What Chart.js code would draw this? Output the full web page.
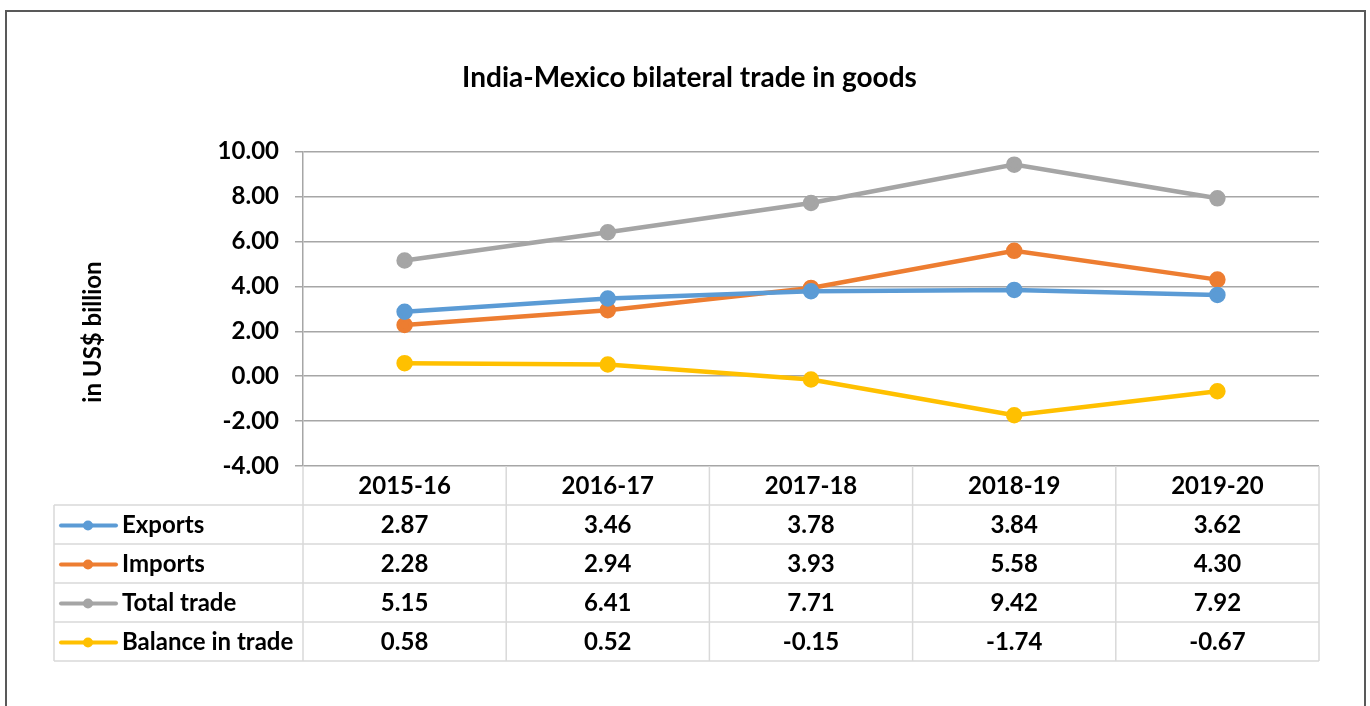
<!DOCTYPE html>
<html>
<head>
<meta charset="utf-8">
<script src="https://cdn.jsdelivr.net/npm/chart.js@4.4.1/dist/chart.umd.min.js"></script>
<style>
  html, body { margin: 0; padding: 0; background: #fff; }
  #wrap { width: 1370px; height: 706px; }
</style>
</head>
<body>
<div id="wrap"><canvas id="tradeChart" width="1370" height="706"></canvas></div>
<script>
// values in US$ billion
const years = ["2015-16", "2016-17", "2017-18", "2018-19", "2019-20"];
const exportsVals = [2.87, 3.46, 3.78, 3.84, 3.62];
const importsVals = [2.28, 2.94, 3.93, 5.58, 4.30];
const totalVals = [5.15, 6.41, 7.71, 9.42, 7.92];
const balanceVals = [0.58, 0.52, -0.15, -1.74, -0.67];

const seriesNames = ["Exports", "Imports", "Total trade", "Balance in trade"];
const seriesColors = ["#5B9BD5", "#ED7D31", "#A5A5A5", "#FFC000"];
const seriesData = [exportsVals, importsVals, totalVals, balanceVals];

const FONT = "Lato, 'Liberation Sans', sans-serif";

// draws the outer frame, the axis title and the data table under the plot
const tablePlugin = {
  id: "dataTable",
  beforeDraw(chart) {
    const c = chart.ctx;
    c.save();
    c.fillStyle = "#fff";
    c.fillRect(0, 0, chart.width, chart.height);
    c.strokeStyle = "#595959";
    c.lineWidth = 2;
    c.strokeRect(6, 11, 1359, 720);
    c.restore();
  },
  afterDraw(chart) {
    const c = chart.ctx;
    const area = chart.chartArea;
    const xs = chart.scales.x;
    const colW = (area.right - area.left) / years.length;
    const rowH = 39;
    const top = area.bottom;
    const legendLeft = 54;
    c.save();

    // y axis title, centred on plot + table like the original
    c.fillStyle = "#000";
    c.font = "bold 24px " + FONT;
    c.textAlign = "center";
    c.textBaseline = "middle";
    c.save();
    c.translate(93, 332);
    c.rotate(-Math.PI / 2);
    c.fillText("in US$ billion", 0, 0);
    c.restore();

    c.strokeStyle = "#D9D9D9";
    c.lineWidth = 1.5;
    // horizontal lines
    for (let r = 1; r <= seriesNames.length + 1; r++) {
      const y = top + r * rowH;
      c.beginPath();
      c.moveTo(legendLeft, y);
      c.lineTo(area.right, y);
      c.stroke();
    }
    // vertical lines in the value columns
    for (let i = 0; i <= years.length; i++) {
      const x = area.left + i * colW;
      c.beginPath();
      c.moveTo(x, i === 0 ? top + 1 : top);
      c.lineTo(x, top + rowH * (seriesNames.length + 1));
      c.stroke();
    }
    c.beginPath();
    c.moveTo(legendLeft, top + rowH);
    c.lineTo(legendLeft, top + rowH * (seriesNames.length + 1));
    c.stroke();

    c.fillStyle = "#000";
    years.forEach((y, i) => {
      c.fillText(y, xs.getPixelForValue(i), top + rowH / 2 + 1);
    });
    seriesNames.forEach((name, r) => {
      const cy = top + rowH * (r + 1) + rowH / 2 + 1;
      // legend key
      c.strokeStyle = seriesColors[r];
      c.lineWidth = 4;
      c.lineCap = "round";
      c.beginPath();
      c.moveTo(61, cy);
      c.lineTo(116, cy);
      c.stroke();
      c.fillStyle = seriesColors[r];
      c.beginPath();
      c.arc(88, cy, 5, 0, Math.PI * 2);
      c.fill();
      c.fillStyle = "#000";
      c.textAlign = "left";
      c.fillText(name, 122, cy);
      c.textAlign = "center";
      seriesData[r].forEach((v, i) => {
        c.fillText(v.toFixed(2), xs.getPixelForValue(i), cy);
      });
    });
    c.restore();
  }
};

new Chart(document.getElementById("tradeChart"), {
  type: "line",
  data: {
    labels: years,
    datasets: seriesNames.map((name, i) => ({
      label: name,
      data: seriesData[i],
      borderColor: seriesColors[i],
      backgroundColor: seriesColors[i],
      borderWidth: 4.5,
      pointRadius: 6,
      pointHoverRadius: 6,
      tension: 0
    }))
  },
  options: {
    responsive: false,
    animation: false,
    layout: { padding: { left: 60, right: 51, top: 0, bottom: 232 } },
    plugins: {
      legend: { display: false },
      tooltip: { enabled: false },
      title: {
        display: true,
        text: "India-Mexico bilateral trade in goods",
        color: "#000",
        font: { family: FONT, size: 28, weight: "bold" },
        padding: { top: 61, bottom: 57 }
      }
    },
    scales: {
      x: {
        offset: true,
        ticks: { display: false },
        grid: { display: false },
        border: { display: false }
      },
      y: {
        min: -4,
        max: 10,
        afterFit(scale) { scale.width = 243; },
        ticks: {
          stepSize: 2,
          color: "#000",
          padding: 16,
          font: { family: FONT, size: 24, weight: "bold" },
          callback: v => v.toFixed(2)
        },
        grid: { color: "#A6A6A6", lineWidth: 1.5, tickLength: 8 },
        border: { color: "#A6A6A6", width: 1.5 }
      }
    }
  },
  plugins: [tablePlugin]
});
</script>
</body>
</html>
